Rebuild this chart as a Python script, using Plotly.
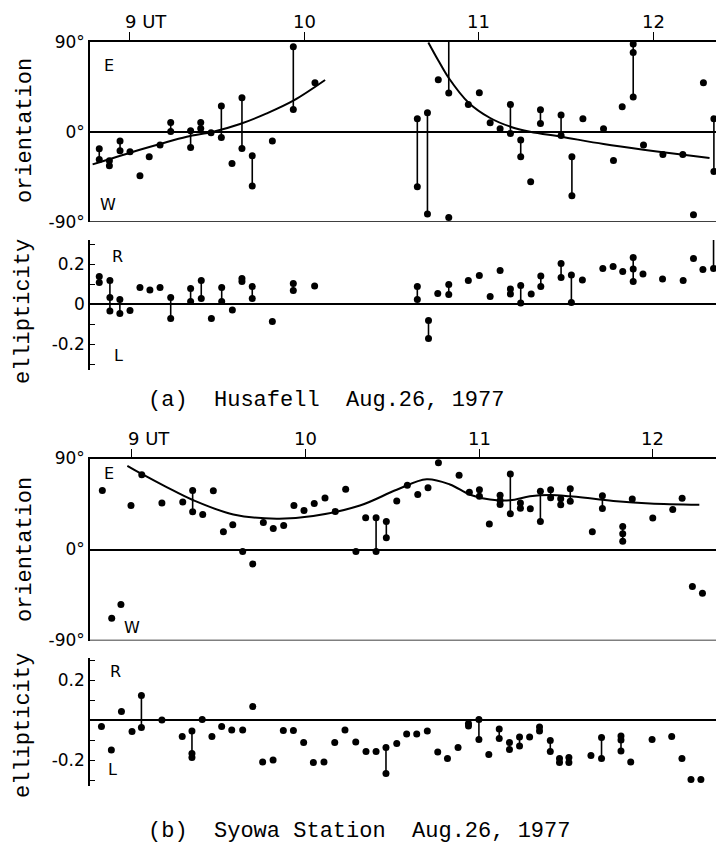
import plotly.graph_objects as go

W, H = 716, 843
def px(x): return x / W
def py(y): return 1 - y / H

# ---------------- data ----------------
# (a) Husafell orientation (deg): time UT, values at that time (connected if several)
a_or_t = [8.827, 8.885, 8.946, 9.003, 9.06, 9.113, 9.175, 9.236, 9.35, 9.408, 9.467, 9.526,
          9.587, 9.644, 9.703, 9.818, 9.938, 10.062, 10.648, 10.706, 10.768, 10.828, 10.828,
          10.94, 11.003, 11.065, 11.122, 11.181, 11.24, 11.297, 11.353, 11.471, 11.533, 11.596,
          11.714, 11.771, 11.821, 11.884, 11.943, 12.054, 12.168, 12.229, 12.286, 12.346]
a_or_v = [[-17, -27.7], [-29, -34], [-9.3, -19], [-20], [-44], [-25], [-13.3], [9.3, 0.3],
          [1, -15.7], [9.3, 3.3], [-1], [25.7, -5.7], [-31.7], [34, -16.7], [-24, -54.3], [-9.3],
          [85, 22.3], [49], [13, -55], [19, -82.3], [52], [38.7], [-85.7], [27.3], [39], [9], [3],
          [27.3, -1.7], [-8.3, -25], [-50], [22, 8.3], [16.7, -3.7], [-25, -64], [13], [3], [-28.7],
          [25], [87.7, 79.3, 34.7], [-13.3], [-22.7], [-22.7], [-83], [49], [13, -39.7]]
# segment running off the top edge (wrapped orientation)
a_or_open_t = [10.828]
a_or_open_lo = [38.7]
a_or_open_hi = [90]
# fitted curves (a)
a_fit1_t = [8.789, 9.022, 9.175, 9.328, 9.48, 9.633, 9.786, 9.938, 10.12]
a_fit1_v = [-32.7, -20, -12.3, -5, 0, 7.7, 18.3, 31, 51.7]
a_fit2_t = [10.711, 10.769, 10.828, 10.94, 11.065, 11.181, 11.294, 11.471, 11.714, 11.943, 12.171, 12.321]
a_fit2_v = [89.3, 71, 53.7, 29.3, 13.7, 5, 0, -5, -12.3, -18, -23, -26.3]

# (a) Husafell ellipticity
a_el_t = [8.827, 8.888, 8.945, 9.003, 9.06, 9.117, 9.175, 9.236, 9.35, 9.411, 9.469, 9.528,
          9.589, 9.644, 9.703, 9.818, 9.938, 10.06, 10.648, 10.712, 10.765, 10.828, 10.94,
          11.003, 11.065, 11.122, 11.181, 11.24, 11.3, 11.355, 11.471, 11.53, 11.593, 11.71,
          11.769, 11.824, 11.884, 11.94, 12.052, 12.17, 12.229, 12.283, 12.344]
a_el_v = [[0.137, 0.108], [0.117, 0.032, -0.035], [0.023, -0.047], [-0.033], [0.082], [0.07],
          [0.083], [0.032, -0.072], [0.078, 0.012], [0.117, 0.028], [-0.072], [0.083, 0.012],
          [-0.03], [0.128, 0.112], [0.087, 0.028], [-0.088], [0.103, 0.067], [0.09],
          [0.088, 0.022], [-0.083, -0.173], [0.052], [0.097, 0.047], [0.118], [0.142], [0.038],
          [0.168], [0.075, 0.05], [0.092, 0.005], [0.05], [0.14, 0.087], [0.203, 0.132],
          [0.145, 0.008], [0.12], [0.178], [0.187], [0.162], [0.232, 0.175, 0.113], [0.15],
          [0.125], [0.118], [0.227], [0.172], [0.328, 0.178]]

# (b) Syowa orientation
b_or_t = [8.831, 8.885, 8.938, 8.996, 9.058, 9.174, 9.294, 9.351, 9.409, 9.47, 9.528, 9.582,
          9.639, 9.697, 9.758, 9.815, 9.875, 9.934, 9.992, 10.051, 10.113, 10.172, 10.232,
          10.291, 10.347, 10.407, 10.466, 10.526, 10.587, 10.647, 10.706, 10.766, 10.885,
          10.944, 11.002, 11.059, 11.121, 11.18, 11.238, 11.295, 11.353, 11.412, 11.47, 11.525,
          11.652, 11.71, 11.827, 11.882, 12.0, 12.115, 12.169, 12.228, 12.286]
b_or_v = [[58.4], [-67.9], [-54.5], [43.5], [74], [46.1], [47.1], [58.4, 37.3], [34.7], [58.1],
          [17.5], [24.4], [-1.9], [-14.3], [26.6], [20.8], [23.7], [43.5], [38.6], [45.5], [51],
          [37.7], [59.7], [-1.9], [31.5], [31.5, -1.9], [27.6, 11.7], [48], [63.6], [54.5], [61],
          [85.7], [73.4], [56.5], [59, 52.6], [25.3], [53.6, 48.4, 44.5], [74.7, 35.4],
          [46.1, 40.9], [40.3], [57.5, 27.6], [59.1, 51.3], [50.3, 44.2], [60, 47.7], [17.5],
          [53.2, 40.6], [22.7, 15.6, 8.1], [50], [31.2], [39.6], [50.6], [-36.7], [-43.2]]
b_fit_t = [8.975, 9.058, 9.201, 9.355, 9.585, 9.835, 10.045, 10.314, 10.526, 10.698, 10.832,
           10.948, 11.063, 11.178, 11.293, 11.408, 11.523, 11.638, 11.792, 11.984, 12.268]
b_fit_v = [82.8, 74.7, 61.7, 48.7, 34.7, 30.5, 33.1, 43.5, 59.1, 69.5, 64.3, 54.2, 49.4, 48.7,
           52.6, 53.9, 52.6, 50.6, 47.7, 45.5, 44.2]

# (b) Syowa ellipticity
b_el_t = [8.826, 8.883, 8.941, 9.002, 9.056, 9.174, 9.291, 9.347, 9.406, 9.462, 9.518, 9.576,
          9.639, 9.697, 9.754, 9.814, 9.873, 9.931, 9.99, 10.046, 10.107, 10.169, 10.228,
          10.29, 10.349, 10.407, 10.464, 10.526, 10.583, 10.641, 10.702, 10.762, 10.818,
          10.879, 10.939, 10.999, 11.056, 11.116, 11.175, 11.233, 11.291, 11.348, 11.41,
          11.463, 11.517, 11.644, 11.705, 11.817, 11.873, 11.996, 12.109, 12.168, 12.22, 12.277]
b_el_v = [[-0.033], [-0.15], [0.043], [-0.058], [0.122, -0.037], [0.0], [-0.083],
          [-0.055, -0.167, -0.187], [0.003], [-0.083], [-0.033], [-0.05], [-0.05], [0.067],
          [-0.21], [-0.2], [-0.053], [-0.053], [-0.113], [-0.213], [-0.21], [-0.113], [-0.05],
          [-0.11], [-0.157], [-0.157], [-0.137, -0.268], [-0.117], [-0.07], [-0.07], [-0.055],
          [-0.16], [-0.193], [-0.138], [-0.017, -0.03], [0.003, -0.097], [-0.173],
          [-0.045, -0.093], [-0.113, -0.147], [-0.085, -0.13], [-0.085], [-0.035, -0.055],
          [-0.102, -0.158], [-0.193, -0.213], [-0.188, -0.213], [-0.177], [-0.088, -0.193],
          [-0.08, -0.1, -0.155], [-0.21], [-0.097], [-0.083], [-0.193], [-0.297], [-0.297]]

hour_ticks = [9, 10, 11, 12]
hour_text = ["9 UT", "10", "11", "12"]

# ---------------- figure ----------------
fig = go.Figure()
BLACK = "black"

def add_panel(ts, vs, xa, ya):
    sx, sy, dx, dy = [], [], [], []
    for t, v in zip(ts, vs):
        if len(v) > 1:
            sx += [t, t, None]
            sy += [min(v), max(v), None]
        for val in v:
            dx.append(t)
            dy.append(val)
    fig.add_trace(go.Scatter(x=sx, y=sy, mode="lines", line=dict(color=BLACK, width=1.6),
                             xaxis=xa, yaxis=ya, cliponaxis=False, hoverinfo="skip"))
    fig.add_trace(go.Scatter(x=dx, y=dy, mode="markers",
                             marker=dict(color=BLACK, size=7, symbol="circle"),
                             xaxis=xa, yaxis=ya, cliponaxis=False))

def add_curve(ts, vs, xa, ya):
    fig.add_trace(go.Scatter(x=ts, y=vs, mode="lines",
                             line=dict(color=BLACK, width=2, shape="spline", smoothing=1.0),
                             xaxis=xa, yaxis=ya, cliponaxis=False))

add_curve(a_fit1_t, a_fit1_v, "x", "y")
add_curve(a_fit2_t, a_fit2_v, "x", "y")
add_panel(a_or_t, a_or_v, "x", "y")
osx, osy = [], []
for t, lo, hi in zip(a_or_open_t, a_or_open_lo, a_or_open_hi):
    osx += [t, t, None]
    osy += [lo, hi, None]
fig.add_trace(go.Scatter(x=osx, y=osy, mode="lines", line=dict(color=BLACK, width=1.6),
                         xaxis="x", yaxis="y", cliponaxis=False))
add_panel(a_el_t, a_el_v, "x2", "y2")
add_curve(b_fit_t, b_fit_v, "x3", "y3")
add_panel(b_or_t, b_or_v, "x3", "y3")
add_panel(b_el_t, b_el_v, "x4", "y4")

XD = [px(90), 1]
xa_range = [8.774, 12.358]
xb_range = [8.760, 12.364]
LW = 1.6

top_axis = dict(domain=XD, side="top", showline=True, linecolor=BLACK, linewidth=LW,
                ticks="outside", ticklen=8, tickwidth=1.2, tickcolor=BLACK, automargin=False,
                tickvals=hour_ticks, showticklabels=False, showgrid=False, zeroline=False)
hidden_x = dict(domain=XD, visible=False, showgrid=False, zeroline=False, automargin=False)

or_axis = dict(range=[-90, 90], showline=True, linecolor=BLACK, linewidth=LW, automargin=False,
               tickvals=[-90, 0, 90], ticktext=["-90°", "0°", "90°"], ticks="",
               tickfont=dict(family="DejaVu Sans", size=17, color=BLACK),
               zeroline=True, zerolinecolor=BLACK, zerolinewidth=LW, showgrid=False)

def el_axis(rng, labels):
    return dict(range=rng, showline=True, linecolor=BLACK, linewidth=LW, automargin=False,
                tickvals=[-0.3, -0.2, -0.1, 0, 0.1, 0.2, 0.3], ticktext=labels,
                ticks="inside", ticklen=5, tickwidth=1.2, tickcolor=BLACK,
                tickfont=dict(family="DejaVu Sans", size=17, color=BLACK),
                zeroline=True, zerolinecolor=BLACK, zerolinewidth=LW, showgrid=False)

fig.update_layout(
    width=W, height=H, margin=dict(l=0, r=0, t=0, b=0, pad=0, autoexpand=False),
    paper_bgcolor="white", plot_bgcolor="rgba(0,0,0,0)", showlegend=False,
    xaxis=dict(top_axis, range=xa_range, anchor="y"),
    xaxis2=dict(hidden_x, range=xa_range, anchor="y2"),
    xaxis3=dict(top_axis, range=xb_range, anchor="y3"),
    xaxis4=dict(hidden_x, range=xb_range, anchor="y4"),
    yaxis=dict(or_axis, domain=[py(221.7), py(41.7)], anchor="x"),
    yaxis2=dict(el_axis([-0.33, 0.32], ["", "-0.2", "", "0", "", "0.2", ""]),
                domain=[py(370), py(240)], anchor="x2"),
    yaxis3=dict(or_axis, domain=[py(640.5), py(458.5)], anchor="x3"),
    yaxis4=dict(el_axis([-0.33, 0.31], ["", "-0.2", "", "", "", "0.2", ""]),
                domain=[py(786), py(658)], anchor="x4"),
)

# bottom border lines of orientation panels
for ya, xa in (("y", "x"), ("y3", "x3")):
    fig.add_shape(type="line", xref=f"{xa} domain", yref=ya, x0=0, x1=1, y0=-90, y1=-90,
                  line=dict(color=BLACK, width=LW))

sans = dict(family="DejaVu Sans", size=16, color=BLACK)
hour_font = dict(family="DejaVu Sans", size=18, color=BLACK)
mono = dict(family="Liberation Mono", size=22, color=BLACK)
ann = []
for xa, ylab in (("x", 21), ("x3", 438.5)):
    for hv, ht in zip(hour_ticks, hour_text):
        ann.append(dict(x=hv, xref=xa, y=py(ylab), yref="paper", text=ht, showarrow=False,
                        xanchor="left" if ht.endswith("UT") else "center",
                        xshift=-6 if ht.endswith("UT") else 0,
                        yanchor="middle", font=hour_font))
for txt, x, y in (("E", 109, 66), ("W", 108, 204), ("R", 117, 256), ("L", 118, 355),
                  ("E", 109, 474), ("W", 132, 627), ("R", 115, 671), ("L", 113, 769)):
    ann.append(dict(x=px(x), y=py(y), xref="paper", yref="paper", text=txt, showarrow=False,
                    xanchor="center", yanchor="middle", font=sans))
for txt, x, y in (("orientation", 25, 131), ("ellipticity", 24, 312),
                  ("orientation", 25, 550), ("ellipticity", 23, 726)):
    ann.append(dict(x=px(x), y=py(y), xref="paper", yref="paper", text=txt, showarrow=False,
                    textangle=-90, xanchor="center", yanchor="middle", font=mono))
for txt, y in (("(a)  Husafell  Aug.26, 1977", 400), ("(b)  Syowa Station  Aug.26, 1977", 831.5)):
    ann.append(dict(x=px(146), y=py(y), xref="paper", yref="paper", text=txt, showarrow=False,
                    xanchor="left", yanchor="middle", font=mono))
fig.update_layout(annotations=ann)

fig.write_html("out.html")
